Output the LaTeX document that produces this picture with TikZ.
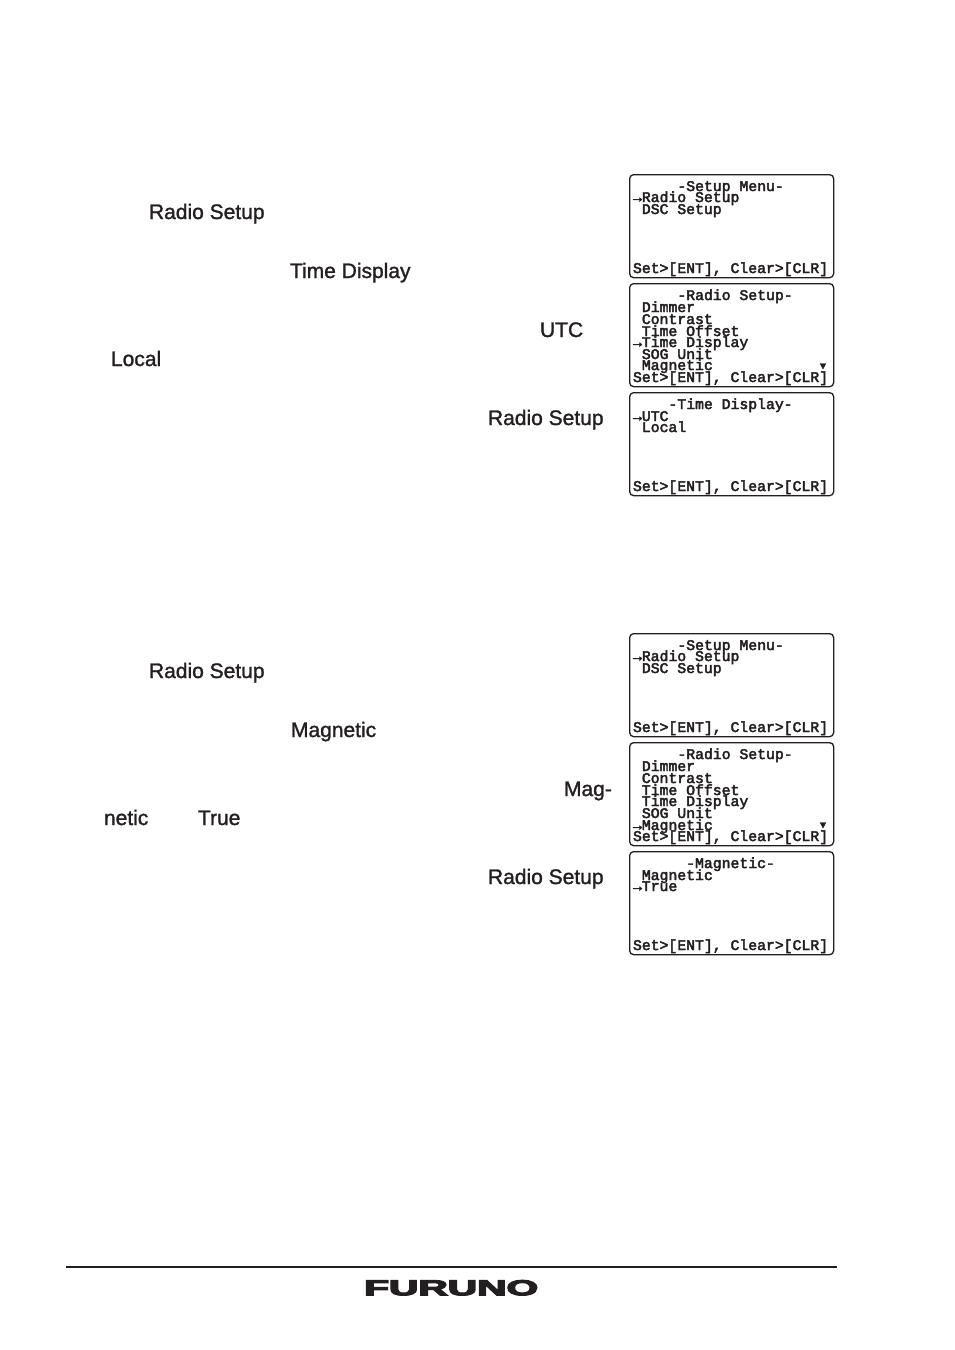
\documentclass[tikz,border=0pt]{standalone}
\usepackage{fontspec}
\setmainfont{Liberation Sans}
\newfontfamily\scrfont[FakeBold=3]{Liberation Mono}
\newfontfamily\bodyfont[FakeBold=1.3]{Liberation Sans}
\newfontfamily\logofont[FakeBold=5]{Liberation Sans Bold}
\definecolor{ink}{HTML}{231F20}
\tikzset{
  body/.style={anchor=base west,inner sep=0pt,outer sep=0pt,text=ink,font=\bodyfont\fontsize{21}{21}\selectfont},
  scr/.style={anchor=base west,inner sep=0pt,outer sep=0pt,yshift=-1pt,text=ink,font=\scrfont\fontsize{14.78}{15}\selectfont},
  screen/.style={draw=ink,line width=1.3pt,rounded corners=4pt,anchor=north west,minimum width=204pt,minimum height=103pt,inner sep=0pt},
}
\begin{document}
\begin{tikzpicture}[x=1pt,y=-1pt]
\useasboundingbox (0,0) rectangle (954,1350);
\fill[white] (0,0) rectangle (954,1350);
% body words
\node[body] (t1) at (149,219) {Radio Setup};
\node[body] (t2) at (290,278) {Time Display};
\node[body] (t3) at (540,337) {UTC};
\node[body] (t4) at (111,366) {Local};
\node[body] (t5) at (488,425) {Radio Setup};
\node[body] (t6) at (149,678) {Radio Setup};
\node[body] (t7) at (291,737) {Magnetic};
\node[body] (t8) at (564,796) {Mag-};
\node[body] (t9) at (104,825) {netic};
\node[body] (t10) at (198,825) {True};
\node[body] (t11) at (488,884) {Radio Setup};
% screens
\node[screen] (s1) at (629,174) {};
\node[screen] (s2) at (629,283) {};
\node[screen] (s3) at (629,392) {};
\node[screen] (s4) at (629,633) {};
\node[screen] (s5) at (629,742) {};
\node[screen] (s6) at (629,851) {};
% screen 1
\node[scr] (a1) at (677.4,190) {-Setup Menu-};
\node[scr] (a2) at (633,201) {→Radio Setup};
\node[scr] (a3) at (633,213) {\ DSC Setup};
\node[scr] (a4) at (633,272) {Set>[ENT], Clear>[CLR]};
% screen 2
\node[scr] (b1) at (677.4,299) {-Radio Setup-};
\node[scr] (b2) at (633,311) {\ Dimmer};
\node[scr] (b3) at (633,323) {\ Contrast};
\node[scr] (b4) at (633,335) {\ Time Offset};
\node[scr] (b5) at (633,346) {→Time Display};
\node[scr] (b6) at (633,358) {\ SOG Unit};
\node[scr] (b7) at (633,369) {\ Magnetic};
\node[scr,font=\scrfont\fontsize{10}{10}\selectfont] (b8) at (820,368) {▼};
\node[scr] (b9) at (633,381) {Set>[ENT], Clear>[CLR]};
% screen 3
\node[scr] (c1) at (668.5,408) {-Time Display-};
\node[scr] (c2) at (633,420) {→UTC};
\node[scr] (c3) at (633,431) {\ Local};
\node[scr] (c4) at (633,490) {Set>[ENT], Clear>[CLR]};
% screen 4
\node[scr] (d1) at (677.4,649) {-Setup Menu-};
\node[scr] (d2) at (633,660) {→Radio Setup};
\node[scr] (d3) at (633,672) {\ DSC Setup};
\node[scr] (d4) at (633,731) {Set>[ENT], Clear>[CLR]};
% screen 5
\node[scr] (e1) at (677.4,758) {-Radio Setup-};
\node[scr] (e2) at (633,770) {\ Dimmer};
\node[scr] (e3) at (633,782) {\ Contrast};
\node[scr] (e4) at (633,794) {\ Time Offset};
\node[scr] (e5) at (633,805) {\ Time Display};
\node[scr] (e6) at (633,817) {\ SOG Unit};
\node[scr] (e7) at (633,829) {→Magnetic};
\node[scr,font=\scrfont\fontsize{10}{10}\selectfont] (e8) at (820,827) {▼};
\node[scr] (e9) at (633,840) {Set>[ENT], Clear>[CLR]};
% screen 6
\node[scr] (f1) at (686.2,867) {-Magnetic-};
\node[scr] (f2) at (633,879) {\ Magnetic};
\node[scr] (f3) at (633,890) {→True};
\node[scr] (f4) at (633,949) {Set>[ENT], Clear>[CLR]};
% footer
\draw[ink,line width=2pt] (66,1267) -- (837,1267);
\node[anchor=north west,inner sep=0pt,text=ink] (logo) at (364,1280) {\resizebox{174pt}{15pt}{\logofont FURUNO}};
\end{tikzpicture}
\end{document}
